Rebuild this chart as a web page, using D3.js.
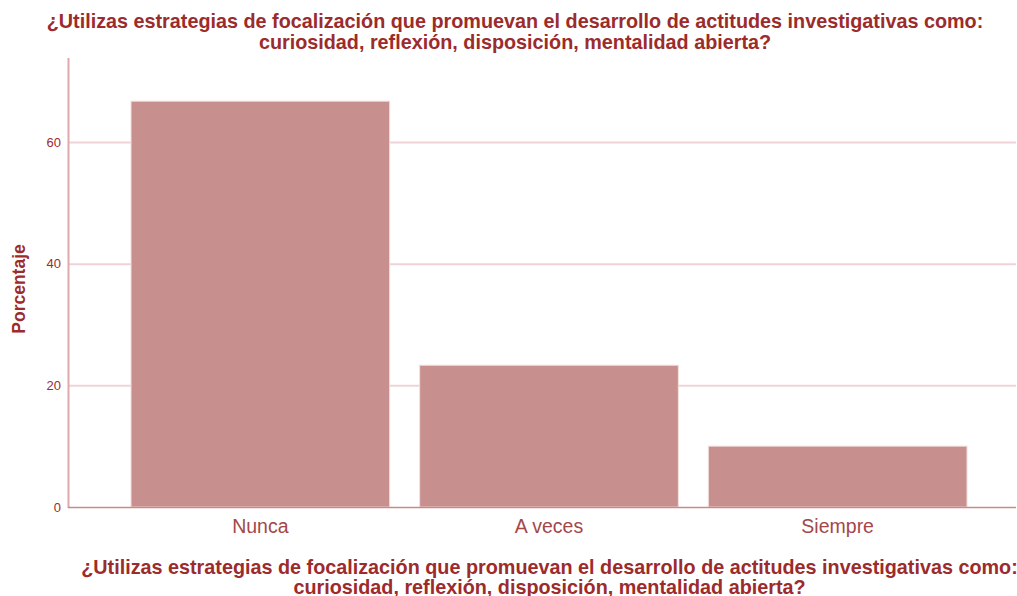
<!DOCTYPE html>
<html>
<head>
<meta charset="utf-8">
<script src="https://cdn.jsdelivr.net/npm/d3@7"></script>
<style>
  body { margin: 0; background: #fff; }
  text { font-family: "Liberation Sans", Arial, sans-serif; }
</style>
</head>
<body>
<div id="chart"></div>
<script>
// data
var categories = ["Nunca", "A veces", "Siempre"];
var percents = [66.7, 23.3, 10.0];
var yTicks = [0, 20, 40, 60];
var titleLines = ["¿Utilizas estrategias de focalización que promuevan el desarrollo de actitudes investigativas como:",
  "curiosidad, reflexión, disposición, mentalidad abierta?"];

var svgWidth = 1017, svgHeight = 596;
var textColor = "#9c2b2b";

var svg = d3.select("#chart").append("svg")
  .attr("width", svgWidth)
  .attr("height", svgHeight);

// scales
var y = d3.scaleLinear().domain([0, 73.8]).range([507, 58]);
var x = d3.scaleBand().domain(categories)
  .range([116, 982])
  .paddingInner(0.104)
  .paddingOuter(0.052);

// gridlines
svg.append("g").selectAll("line")
  .data(yTicks.filter(d => d > 0))
  .enter().append("line")
  .attr("x1", 68).attr("x2", 1016)
  .attr("y1", d => y(d) + 0.5).attr("y2", d => y(d) + 0.5)
  .attr("stroke", "#efd3d6").attr("stroke-width", 2);

// bars
svg.append("g").selectAll("rect")
  .data(percents)
  .enter().append("rect")
  .attr("x", (d, i) => x(categories[i]))
  .attr("y", d => y(d))
  .attr("width", x.bandwidth())
  .attr("height", d => y(0) - y(d))
  .attr("fill", "#c78f8d")
  .attr("stroke", "#f3dcdc")
  .attr("stroke-width", 1);

// y axis
var leftAxis = d3.axisLeft(y).tickValues(yTicks).tickSize(0).tickPadding(7);
var yg = svg.append("g").attr("transform", "translate(68,0)").call(leftAxis);
yg.select(".domain").remove();
yg.selectAll("text")
  .attr("font-size", "13px")
  .attr("font-family", "'Liberation Sans', Arial, sans-serif")
  .attr("fill", textColor);
svg.append("line")
  .attr("x1", 68.5).attr("x2", 68.5).attr("y1", 58).attr("y2", 508)
  .attr("stroke", "#dfa9ad").attr("stroke-width", 2);

// x axis
var bottomAxis = d3.axisBottom(x).tickSize(0).tickPadding(12);
var xg = svg.append("g").attr("transform", "translate(0,507)").call(bottomAxis);
xg.select(".domain").remove();
xg.selectAll("text")
  .attr("font-size", "19.5px")
  .attr("font-family", "'Liberation Sans', Arial, sans-serif")
  .attr("fill", "#a3474a");
svg.append("line")
  .attr("x1", 68).attr("x2", 1016).attr("y1", 507.5).attr("y2", 507.5)
  .attr("stroke", "#c98a8c").attr("stroke-width", 1.5);

// titles
svg.append("g").selectAll("text")
  .data(titleLines)
  .enter().append("text")
  .attr("x", 515)
  .attr("y", (d, i) => 28 + i * 21)
  .attr("text-anchor", "middle")
  .attr("font-size", "19.8px")
  .attr("font-weight", "bold")
  .attr("fill", textColor)
  .text(d => d);

svg.append("g").selectAll("text")
  .data(titleLines)
  .enter().append("text")
  .attr("x", 549.5)
  .attr("y", (d, i) => 574 + i * 20)
  .attr("text-anchor", "middle")
  .attr("font-size", "19.8px")
  .attr("font-weight", "bold")
  .attr("fill", textColor)
  .text(d => d);

// axis label
svg.append("text")
  .attr("transform", "translate(25,289) rotate(-90)")
  .attr("text-anchor", "middle")
  .attr("font-size", "17.5px")
  .attr("font-weight", "bold")
  .attr("fill", textColor)
  .text("Porcentaje");
</script>
</body>
</html>
